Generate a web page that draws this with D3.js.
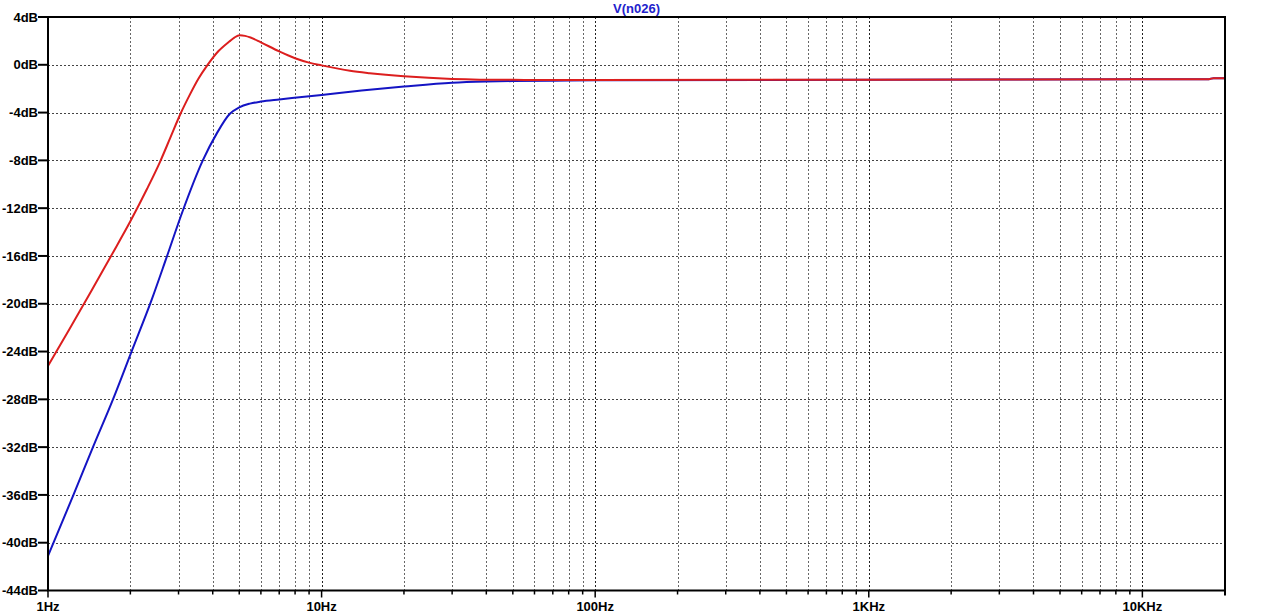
<!DOCTYPE html>
<html>
<head>
<meta charset="utf-8">
<script src="https://cdn.jsdelivr.net/npm/d3@7"></script>
<style>
  html, body { margin: 0; padding: 0; background: #fff; }
  svg { display: block; }
  text { font-family: Arial, "Liberation Sans", sans-serif; font-weight: bold; }
</style>
</head>
<body>
<svg id="chart" width="1280" height="616"></svg>
<script>
// ---- data ----
const title = "V(n026)";
const yTickValues = [4, 0, -4, -8, -12, -16, -20, -24, -28, -32, -36, -40, -44];
const yTickLabels = ["4dB","0dB","-4dB","-8dB","-12dB","-16dB","-20dB","-24dB","-28dB","-32dB","-36dB","-40dB","-44dB"];
const xTickValues = [1, 10, 100, 1000, 10000];
const xTickLabels = ["1Hz","10Hz","100Hz","1KHz","10KHz"];

const redFreq = [1, 1.2, 1.45, 1.7, 2.0, 2.3, 2.57, 2.8, 3.05, 3.3, 3.55, 3.82, 4.2, 4.6, 4.8, 5.02, 5.25, 5.5, 6.0, 7.0, 8.0, 9.0, 10, 12.7, 15, 20, 30, 50, 100, 1000, 10000, 17500, 18200, 20000];
const redDb   = [-25.2, -22.1, -18.8, -16.0, -13.1, -10.4, -8.1, -6.1, -4.1, -2.5, -1.15, -0.05, 1.15, 1.95, 2.28, 2.47, 2.42, 2.28, 1.88, 1.12, 0.55, 0.18, -0.05, -0.5, -0.7, -0.96, -1.18, -1.26, -1.27, -1.25, -1.21, -1.2, -1.12, -1.12];

const blueFreq = [1, 1.239, 1.46, 1.728, 2.02, 2.39, 2.715, 3.1, 3.68, 4.14, 4.62, 5.0, 5.47, 6.0, 7.0, 8.3, 10, 14, 20, 30, 40, 50, 70, 100, 1000, 10000, 17500, 18200, 20000];
const blueDb   = [-41.1, -36, -32, -28, -24, -19.7, -16.1, -12.3, -8, -5.74, -4.1, -3.56, -3.25, -3.08, -2.9, -2.72, -2.52, -2.15, -1.82, -1.5, -1.4, -1.36, -1.33, -1.29, -1.25, -1.21, -1.2, -1.12, -1.12];

// ---- layout ----
const svg = d3.select("#chart");
const L = 48, R = 1225, T = 17, B = 590.5;

const x = d3.scaleLog().domain([1, 20045]).range([L, R]);
const y = d3.scaleLinear().domain([-44, 4]).range([B, T]);

// minor decade positions
const minorTicks = [];
for (let d = 1; d <= 10000; d *= 10) {
  for (let k = 1; k <= 9; k++) {
    const f = d * k;
    if (f <= 20045) minorTicks.push(f);
  }
}

// grid - vertical
const grid = svg.append("g");
grid.selectAll("line.v").data(minorTicks.filter(f => f > 1)).enter().append("line")
  .attr("x1", d => Math.round(x(d)) + 0.5).attr("x2", d => Math.round(x(d)) + 0.5)
  .attr("y1", T).attr("y2", B)
  .attr("stroke", d => (String(d)[0] === "1") ? "#222" : "#666")
  .attr("stroke-width", 1)
  .attr("stroke-dasharray", "2,2");

// grid - horizontal
grid.selectAll("line.h").data(yTickValues.filter(v => v !== 4 && v !== -44)).enter().append("line")
  .attr("x1", L).attr("x2", R)
  .attr("y1", d => Math.round(y(d)) + 0.5).attr("y2", d => Math.round(y(d)) + 0.5)
  .attr("stroke", "#444")
  .attr("stroke-width", 1)
  .attr("stroke-dasharray", "2,2");

// curves
const line = d3.line().x(d => x(d[0])).y(d => y(d[1])).curve(d3.curveMonotoneX);
const blueData = blueFreq.map((f, i) => [f, blueDb[i]]);
const redData = redFreq.map((f, i) => [f, redDb[i]]);

svg.append("path").datum(blueData).attr("d", line)
  .attr("fill", "none").attr("stroke", "#1414c4").attr("stroke-width", 2);
svg.append("path").datum(redData).attr("d", line)
  .attr("fill", "none").attr("stroke", "#dc1e1e").attr("stroke-width", 2);

// frame
svg.append("rect").attr("x", L).attr("y", T).attr("width", R - L).attr("height", B - T)
  .attr("fill", "none").attr("stroke", "#000").attr("stroke-width", 2);

// y axis ticks & labels
const yAx = svg.append("g");
yAx.selectAll("line").data(yTickValues).enter().append("line")
  .attr("x1", 38).attr("x2", L).attr("y1", d => y(d)).attr("y2", d => y(d))
  .attr("stroke", "#000").attr("stroke-width", 2);
yAx.selectAll("text").data(yTickValues).enter().append("text")
  .attr("x", 38).attr("y", d => y(d)).attr("dy", "0.36em")
  .attr("text-anchor", "end").attr("font-size", 13).attr("fill", "#000")
  .text((d, i) => yTickLabels[i]);

// x axis ticks & labels
const xAx = svg.append("g");
xAx.selectAll("line").data(minorTicks).enter().append("line")
  .attr("x1", d => x(d)).attr("x2", d => x(d))
  .attr("y1", B).attr("y2", d => (String(d)[0] === "1") ? B + 7 : B + 4)
  .attr("stroke", "#000").attr("stroke-width", 1.5);
xAx.append("line").attr("x1", R).attr("x2", R).attr("y1", B).attr("y2", B + 5)
  .attr("stroke", "#000").attr("stroke-width", 2);
xAx.selectAll("text").data(xTickValues).enter().append("text")
  .attr("x", d => x(d)).attr("y", 611)
  .attr("text-anchor", "middle").attr("font-size", 13).attr("fill", "#000")
  .text((d, i) => xTickLabels[i]);

// title
svg.append("text").attr("x", (L + R) / 2).attr("y", 13)
  .attr("text-anchor", "middle").attr("font-size", 13).attr("fill", "#2222cc")
  .text(title);
</script>
</body>
</html>
